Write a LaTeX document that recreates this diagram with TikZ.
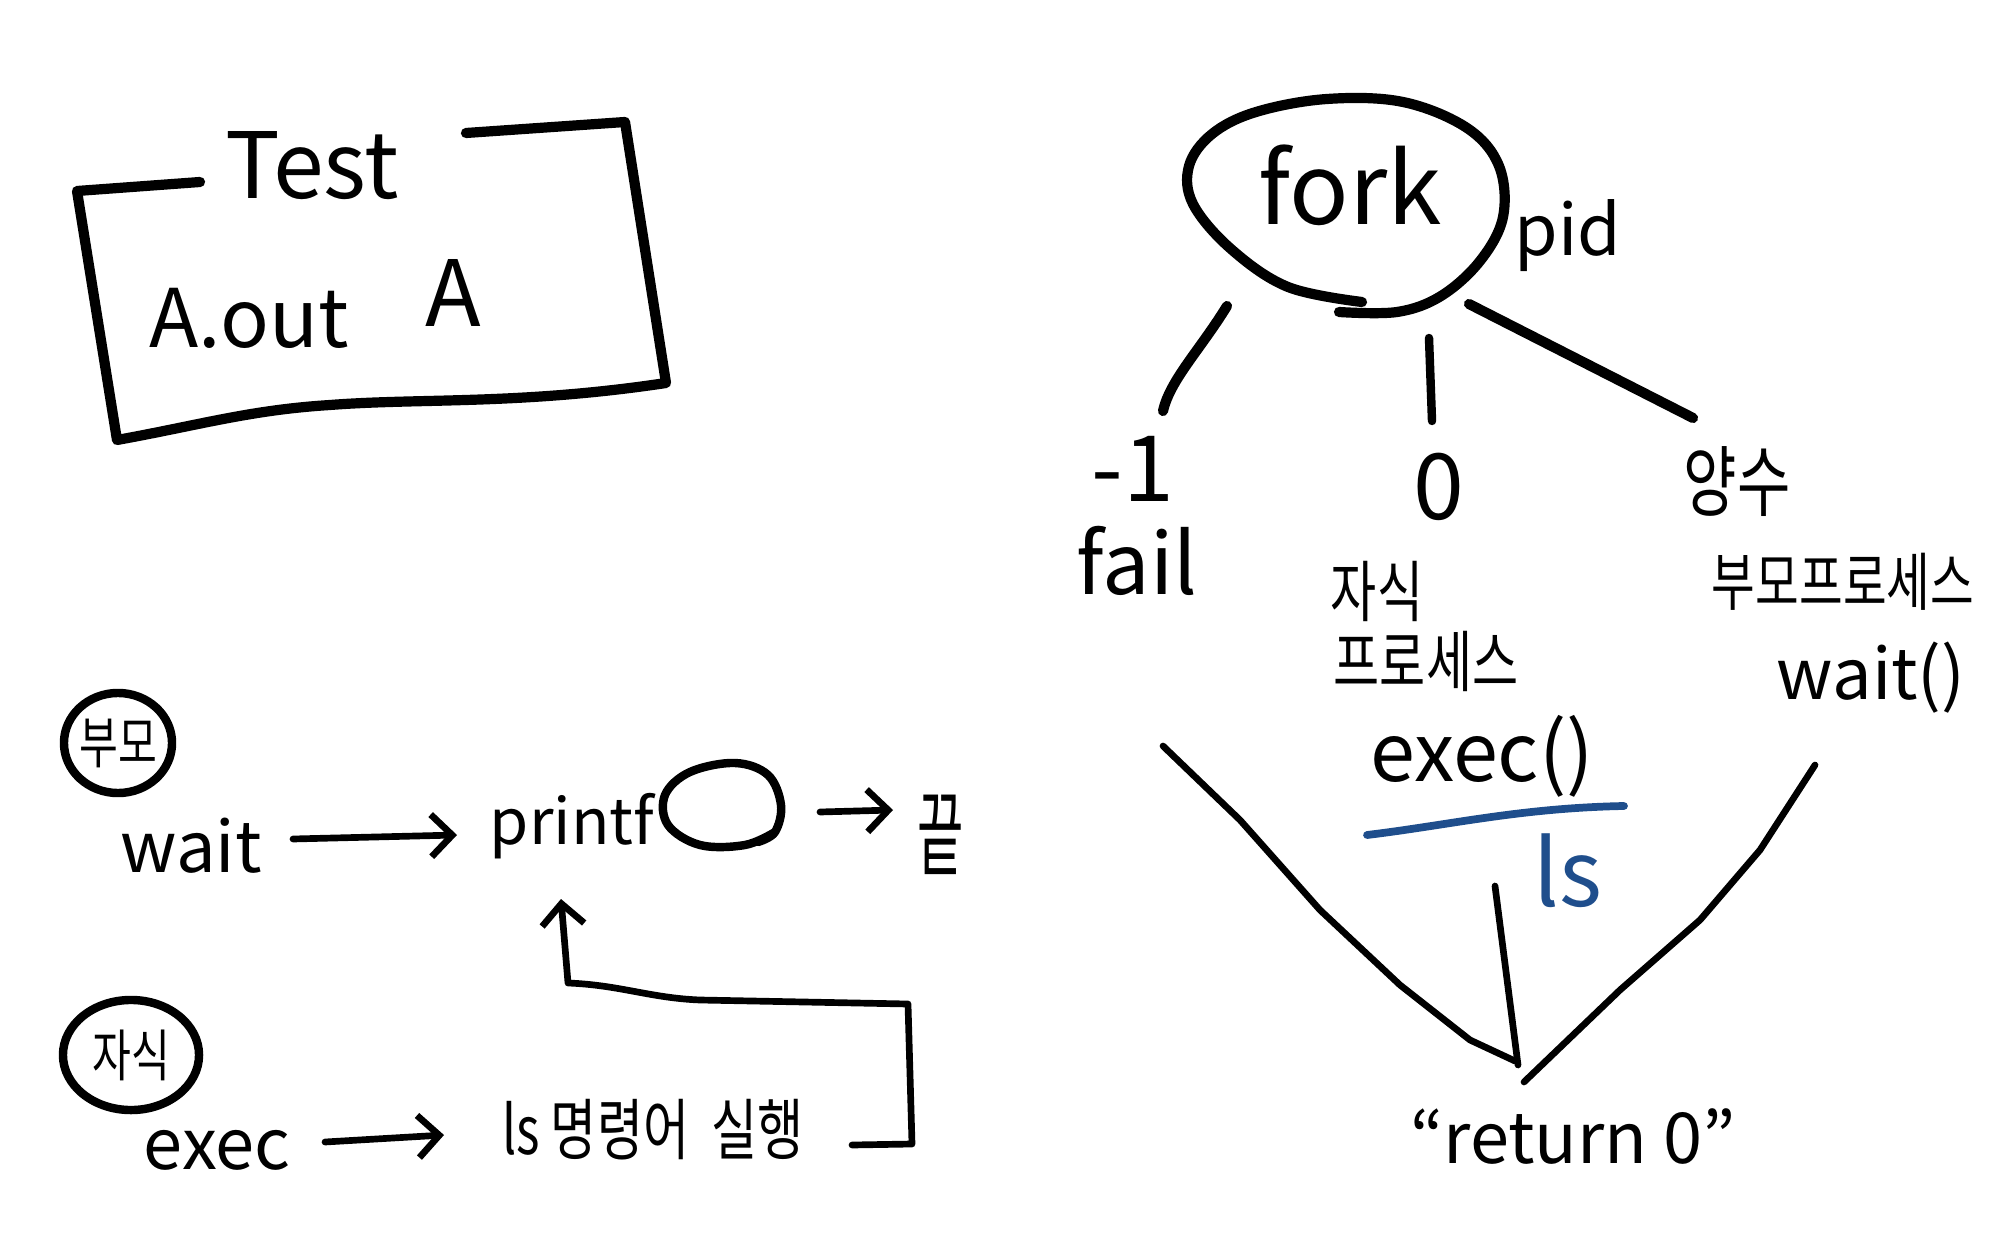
\documentclass[tikz,border=0pt]{standalone}
\usepackage{fontspec}
\setmainfont{Noto Sans CJK KR}
\usetikzlibrary{arrows.meta}
\definecolor{penblue}{HTML}{1F4E8C}
\newcommand{\nar}[1]{\scalebox{0.75}[1]{#1}}
\tikzset{
  ink/.style={line width=1.9pt, line cap=round, line join=round},
  thick ink/.style={line width=2.9pt, line cap=round, line join=round},
  hand/.style={inner sep=0pt, font=\fontsize{20}{24}\selectfont},
  kor/.style={inner sep=0pt, font=\fontsize{19}{22}\selectfont},
  big hand/.style={inner sep=0pt, font=\fontsize{26}{30}\selectfont},
  barb/.style={-{Straight Barb[length=6pt,width=12pt,line width=1.9pt]}},
}
\begin{document}
\begin{tikzpicture}[x=0.01cm,y=-0.01cm]
\useasboundingbox (0,0) rectangle (2000,1246);

% ---- Test box ----
\node[big hand] (test) at (312,166) {Test};
\node[big hand, font=\fontsize{23}{27}\selectfont] (aout) at (249,318) {A.out};
\node[big hand] (a) at (453,293) {A};
\draw[thick ink] (200,182) -- (77,191) -- (117,440)
  .. controls (200,425) and (250,410) .. (330,405)
  .. controls (420,398) and (520,405) .. (666,383)
  -- (625,122) -- (466,133);

% ---- fork tree ----
\node[big hand, font=\fontsize{28}{32}\selectfont] (fork) at (1350,185) {fork};
\draw[thick ink] plot[smooth, tension=0.6] coordinates {(1362,302) (1288,287) (1231,249) (1193,204) (1189,166) (1212,134) (1256,112) (1327,99) (1403,102) (1467,128) (1499,166) (1503,217) (1480,261) (1441,296) (1397,312) (1339,312)};
\node[hand] (pid) at (1568,236) {pid};

\node[big hand] (m1) at (1133,469) {-1};
\node[big hand] (zero) at (1439,487) {0};
\node[kor, font=\fontsize{22}{26}\selectfont] (yang) at (1737,482) {\nar{양수}};
\coordinate (l1a) at (1227,306); \coordinate (l1b) at (1163,411);
\coordinate (l2a) at (1429,338); \coordinate (l2b) at (1432,421);
\coordinate (l3a) at (1469,304); \coordinate (l3b) at (1693,418);
\draw[thick ink] (l1a) .. controls (1200,350) and (1170,380) .. (l1b);
\draw[ink, line width=2.4pt] (l2a) -- (l2b);
\draw[thick ink] (l3a) -- (l3b);

\node[big hand, font=\fontsize{24}{28}\selectfont] (fail) at (1137,561) {fail};
\node[kor] (jasik) at (1377,591) {\nar{자식}};
\node[kor] (proc) at (1426,661) {\nar{프로세스}};
\node[big hand, font=\fontsize{23}{27}\selectfont] (exec) at (1482,756) {exec()};
\node[kor, font=\fontsize{18}{22}\selectfont] (bumo) at (1843,582) {\nar{부모프로세스}};
\node[hand] (waitp) at (1871,678) {wait()};
\node[big hand, text=penblue] (ls) at (1568,871) {ls};
\coordinate (bl1) at (1367,835); \coordinate (bl2) at (1624,806);
\draw[ink, draw=penblue, line width=2.2pt] (bl1) .. controls (1450,825) and (1520,808) .. (bl2);

\node[hand] (ret) at (1573,1137) {“return 0”};
\coordinate (v1) at (1163,746); \coordinate (v2) at (1515,1061);
\coordinate (v3) at (1495,886); \coordinate (v4) at (1518,1065);
\coordinate (v5) at (1815,765); \coordinate (v6) at (1524,1082);
\draw[ink] (v1) -- (1240,820) -- (1320,910) -- (1400,985) -- (1470,1040) -- (v2);
\draw[ink] (v3) -- (v4);
\draw[ink] (v5) -- (1760,850) -- (1700,920) -- (1620,990) -- (v6);

% ---- parent / child flow ----
\node[kor, font=\fontsize{16}{20}\selectfont] (parent) at (118,743) {\nar{부모}};
\draw[ink, line width=2.4pt] (parent.center) ellipse [x radius=0.54cm, y radius=0.50cm];
\node[hand] (wait) at (191,846) {wait};
\node[hand, font=\fontsize{18}{22}\selectfont] (printf) at (572,826) {printf};
\draw[ink, line width=2.4pt] plot[smooth, tension=0.6] coordinates {(775,832) (745,845) (700,845) (668,825) (665,795) (690,772) (735,763) (768,775) (781,805) (775,832) (758,842)};
\node[kor, font=\fontsize{22}{26}\selectfont] (kkeut) at (941,835) {\scalebox{0.65}[1.2]{끝}};
\draw[ink, barb] (293,839) -- (457,835);
\draw[ink, barb] (820,812) -- (893,810);

\node[kor, font=\fontsize{16}{20}\selectfont] (child) at (131,1055) {\nar{자식}};
\draw[ink, line width=2.4pt] (child.center) ellipse [x radius=0.68cm, y radius=0.55cm];
\node[hand] (exec2) at (217,1150) {exec};
\node[kor] (lscmd) at (653,1130) {\nar{ls 명령어\ \ 실행}};
\draw[ink, barb] (325,1142) -- (444,1135);
\draw[ink, barb] (852,1145) -- (912,1144) -- (908,1004) -- (700,1000) .. controls (650,998) and (620,985) .. (568,983) -- (561,899);
\end{tikzpicture}
\end{document}
